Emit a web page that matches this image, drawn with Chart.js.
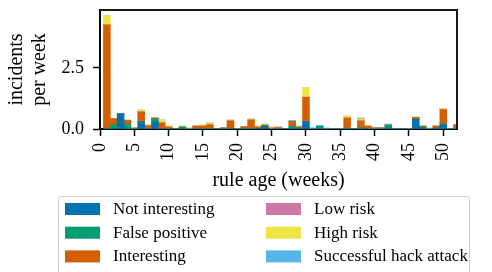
<!DOCTYPE html>
<html>
<head>
<meta charset="utf-8">
<script src="https://cdn.jsdelivr.net/npm/chart.js@4.4.1/dist/chart.umd.min.js"></script>
<style>
  html, body { margin: 0; background: #fff; }
  #wrap { width: 492px; height: 272px; }
</style>
</head>
<body>
<div id="wrap"><canvas id="myChart"></canvas></div>
<script>
// rule age in weeks (one bar per week)
let weeks = [1,2,3,4,5,6,7,8,9,10,11,12,13,14,15,16,17,18,19,20,21,22,23,24,25,26,
  27,28,29,30,31,32,33,34,35,36,37,38,39,40,41,42,43,44,45,46,47,48,49,50,51,52];

// incidents per week, per label (stacked bottom to top)
let notInteresting = [0,0,0.62,0,0,0.29,0,0.29,0,0, 0,0,0,0,0,0,0,0,0,0,
  0,0,0.03,0.12,0,0,0,0,0.03,0.30, 0,0,0,0,0,0,0,0,0,0,
  0,0.04,0,0,0,0.40,0.04,0,0.04,0.17, 0,0];
let falsePositive = [0,0.17,0,0.19,0,0,0,0.12,0,0, 0.02,0.08,0,0,0,0,0,0.04,0,0,
  0.03,0,0,0,0,0,0,0.11,0,0, 0,0.11,0,0,0,0.04,0,0.05,0,0,
  0,0.12,0.02,0,0,0,0.04,0,0,0.04, 0,0];
let interesting = [4.26,0.25,0,0.17,0.04,0.41,0.13,0.04,0.25,0.08, 0,0,0,0.12,0.12,0.17,0,0,0.33,0,
  0.06,0.37,0.05,0.04,0.04,0.05,0,0.20,0.05,1.00, 0,0,0,0,0,0.41,0,0.28,0.12,0.04,
  0.04,0,0,0,0,0.08,0.04,0,0.08,0.58, 0,0.17];
let lowRisk = [0,0,0,0,0,0,0,0,0,0, 0,0,0,0,0,0,0,0,0,0,
  0,0,0,0,0,0,0,0,0,0, 0,0,0,0,0,0,0,0,0,0,
  0,0,0,0,0,0,0,0,0,0, 0,0];
let highRisk = [0.37,0,0,0,0,0.08,0.04,0,0.12,0.04, 0,0.04,0.04,0,0.04,0.08,0,0,0.04,0,
  0,0.04,0.04,0.04,0.04,0,0,0,0,0.40, 0,0,0,0,0,0.08,0,0.08,0,0,
  0,0,0,0,0,0,0,0.04,0,0.04, 0,0];
let hackAttack = [0,0,0,0,0,0,0,0,0,0, 0,0,0,0,0,0,0,0,0,0,
  0,0,0,0,0,0.04,0,0.04,0.04,0, 0.05,0.04,0.04,0,0,0,0,0.04,0,0.03,
  0.03,0.04,0,0,0,0,0,0,0,0, 0,0];

let labels = ['Not interesting', 'False positive', 'Interesting', 'Low risk', 'High risk', 'Successful hack attack'];
let colorHex = ['#0072B2', '#009E73', '#D55E00', '#CC79A7', '#F0E442', '#56B4E9'];
let series = [notInteresting, falsePositive, interesting, lowRisk, highRisk, hackAttack];

let xTicks = [0, 5, 10, 15, 20, 25, 30, 35, 40, 45, 50];
let yTicks = [0, 2.5];

Chart.defaults.font.family = "'Liberation Serif', 'Times New Roman', serif";
Chart.defaults.color = '#000';

// two-column legend box under the axis, like the original figure
const gridLegend = {
  id: 'gridLegend',
  afterDraw(chart) {
    const ctx = chart.ctx;
    ctx.save();
    ctx.strokeStyle = '#cfcfcf';
    ctx.lineWidth = 1;
    ctx.beginPath();
    ctx.roundRect(58.5, 196.5, 411, 80, 3);
    ctx.stroke();
    ctx.font = "17px 'Liberation Serif', serif";
    ctx.textBaseline = 'middle';
    chart.data.datasets.forEach((ds, i) => {
      let col = Math.floor(i / 3), row = i % 3;
      let x = 65 + col * 201, y = 203 + row * 23.7;
      ctx.fillStyle = ds.backgroundColor;
      ctx.fillRect(x, y, 35, 12);
      ctx.fillStyle = '#000';
      ctx.fillText(ds.label, x + 48, y + 6.5);
    });
    ctx.restore();
  }
};

// top and right edges of the plot frame
const frame = {
  id: 'frame',
  afterDatasetsDraw(chart) {
    const {ctx, chartArea: a} = chart;
    ctx.save();
    ctx.strokeStyle = '#1a1a1a';
    ctx.lineWidth = 2;
    ctx.beginPath();
    ctx.moveTo(a.left, a.top);
    ctx.lineTo(a.right, a.top);
    ctx.lineTo(a.right, a.bottom);
    ctx.stroke();
    ctx.restore();
  }
};

let ctx = document.getElementById('myChart').getContext('2d');
let myChart = new Chart(ctx, {
  type: 'bar',
  data: {
    datasets: series.map((vals, i) => ({
      label: labels[i],
      data: vals.map((v, j) => ({x: weeks[j], y: v})),
      backgroundColor: colorHex[i],
      borderWidth: 0,
      categoryPercentage: 1,
      barPercentage: 1,
      clip: 0
    }))
  },
  options: {
    responsive: true,
    maintainAspectRatio: false,
    animation: false,
    layout: { padding: { left: 0, right: 35, top: 10, bottom: 76 } },
    plugins: {
      legend: { display: false },
      tooltip: { enabled: false }
    },
    scales: {
      x: {
        type: 'linear',
        stacked: true,
        offset: false,
        min: 0,
        max: 52,
        afterBuildTicks: (s) => { s.ticks = xTicks.map(v => ({value: v})); },
        afterFit: (s) => { s.height = 67; s.paddingLeft = 0; s.paddingRight = 0; },
        border: { color: '#000', width: 2 },
        grid: { offset: false, drawOnChartArea: false, tickLength: 7, tickWidth: 1.5, tickColor: '#000' },
        ticks: {
          autoSkip: false, minRotation: 90, maxRotation: 90, padding: 7,
          font: { size: 18 },
          callback: (v) => String(v)
        },
        title: { display: true, text: 'rule age (weeks)', font: { size: 20 }, padding: { top: 2, bottom: 3 } }
      },
      y: {
        stacked: true,
        min: 0,
        max: 4.87,
        afterBuildTicks: (s) => { s.ticks = yTicks.map(v => ({value: v})); },
        afterFit: (s) => { s.width = 100; s.paddingTop = 0; s.paddingBottom = 0; },
        border: { color: '#000', width: 2 },
        grid: { drawOnChartArea: false, tickLength: 7, tickWidth: 1.5, tickColor: '#000' },
        ticks: {
          padding: 9,
          font: { size: 18 },
          callback: (v) => v.toFixed(1)
        },
        title: { display: true, text: ['incidents', 'per week'], font: { size: 20, lineHeight: 1.15 }, padding: { top: 5, bottom: 0 } }
      }
    }
  },
  plugins: [gridLegend, frame]
});
</script>
</body>
</html>
